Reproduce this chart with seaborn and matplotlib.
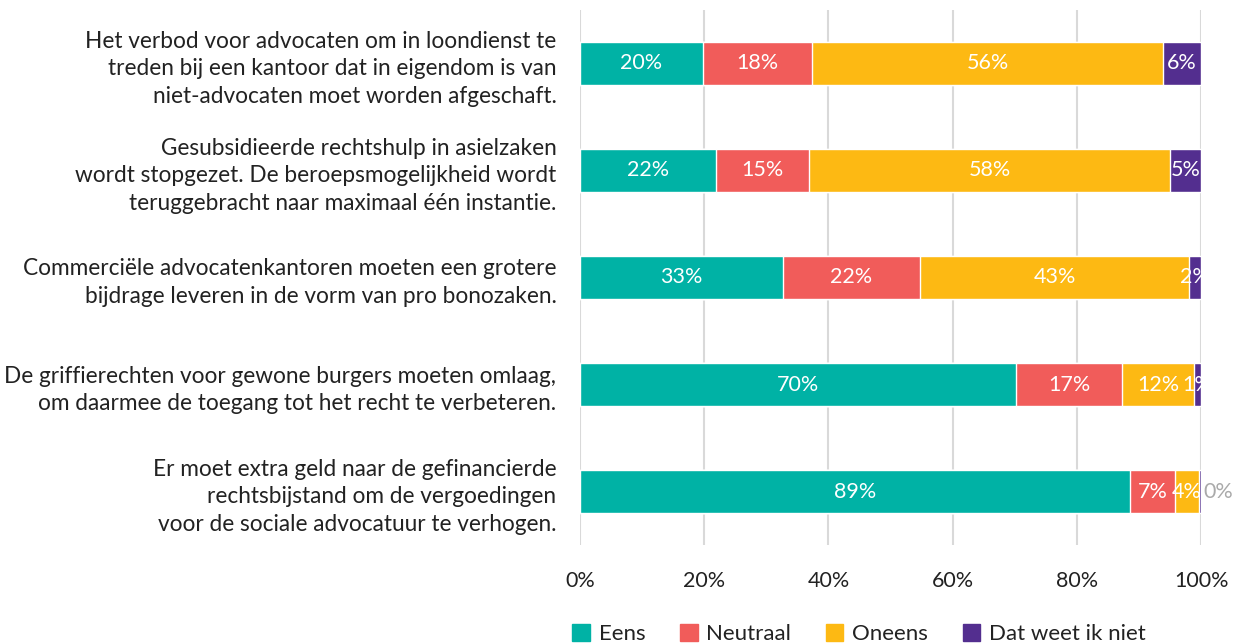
import pandas as pd
import matplotlib.pyplot as plt
import seaborn as sns
from matplotlib.patches import Patch

stellingen = [
    "Het verbod voor advocaten om in loondienst te\ntreden bij een kantoor dat in eigendom is van\nniet-advocaten moet worden afgeschaft.",
    "Gesubsidieerde rechtshulp in asielzaken\nwordt stopgezet. De beroepsmogelijkheid wordt\nteruggebracht naar maximaal één instantie.",
    "Commerciële advocatenkantoren moeten een grotere\nbijdrage leveren in de vorm van pro bonozaken.",
    "De griffierechten voor gewone burgers moeten omlaag,\nom daarmee de toegang tot het recht te verbeteren.",
    "Er moet extra geld naar de gefinancierde\nrechtsbijstand om de vergoedingen\nvoor de sociale advocatuur te verhogen.",
]
antwoorden = ["Eens", "Neutraal", "Oneens", "Dat weet ik niet"]
eens = [19.8, 21.9, 32.7, 70.2, 88.6]
neutraal = [17.6, 15.0, 22.0, 17.1, 7.2]
oneens = [56.4, 58.1, 43.4, 11.6, 3.9]
weet_niet = [6.2, 5.0, 1.9, 1.1, 0.3]
kleuren = ["#00b2a5", "#f15c5a", "#fdb913", "#532e8f"]

sns.set_theme(style="white")
plt.rcParams["font.family"] = ["Lato", "DejaVu Sans"]

df = pd.DataFrame({"stelling": stellingen, "Eens": eens, "Neutraal": neutraal,
                   "Oneens": oneens, "Dat weet ik niet": weet_niet})
cum = df[antwoorden].cumsum(axis=1)

fig = plt.figure(figsize=(12.45, 6.44), dpi=100)
ax = fig.add_axes([0.4659, 0.1537, 0.4988, 0.8308])

# gestapeld: langste laag eerst tekenen
for i in reversed(range(len(antwoorden))):
    sns.barplot(x=cum[antwoorden[i]], y=df["stelling"], color=kleuren[i],
                width=0.4, saturation=1, orient="h", ax=ax)

# percentages in de balken
for r in range(len(df)):
    for a in antwoorden:
        v = df.loc[r, a]
        eind = cum.loc[r, a]
        if round(v) == 0:
            ax.text(eind + 0.3, r, f"{round(v)}%", ha="left", va="center",
                    color="#aaaaaa", fontsize=15.5)
        else:
            ax.text(eind - v / 2, r, f"{round(v)}%", ha="center", va="center",
                    color="white", fontsize=15.5)

ax.set_xlim(0, 100)
ax.set_xticks(range(0, 101, 20))
ax.set_xticklabels([f"{t}%" for t in range(0, 101, 20)])
ax.set_xlabel("")
ax.set_ylabel("")
ax.xaxis.grid(True, color="#d9d9d9", lw=1.5)
ax.set_axisbelow(True)
for s in ax.spines.values():
    s.set_visible(False)
ax.tick_params(axis="y", length=0, pad=17, labelsize=16.3, labelcolor="#222222")
ax.tick_params(axis="x", length=0, pad=19, labelsize=15.5, labelcolor="#222222")
for lbl in ax.get_yticklabels():
    lbl.set_linespacing(1.4)

handles = [Patch(color=c) for c in kleuren]
fig.legend(handles, antwoorden, loc="center", bbox_to_anchor=(0.690, 0.016), ncol=4,
           frameon=False, handlelength=0.8, handleheight=0.8, columnspacing=1.55,
           handletextpad=0.4, fontsize=16, labelcolor="#222222")

fig.savefig("out.png", dpi=100)
